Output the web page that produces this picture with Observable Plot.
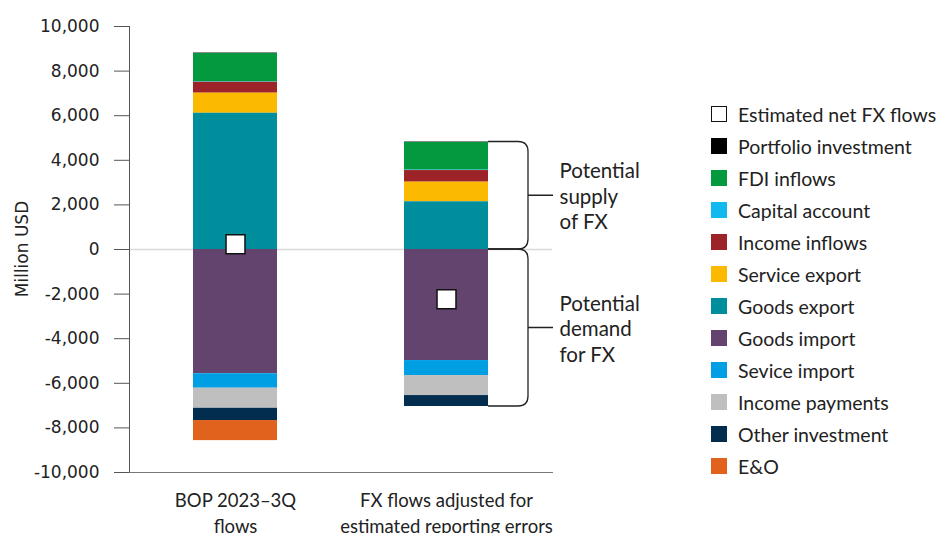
<!DOCTYPE html>
<html><head><meta charset="utf-8">
<script src="https://cdn.jsdelivr.net/npm/d3@7"></script>
<script src="https://cdn.jsdelivr.net/npm/@observablehq/plot@0.6"></script>
<style>
body{margin:0;background:#fff;}
#wrap{position:relative;width:936px;height:533px;overflow:hidden;background:#fff;}
#wrap svg{position:absolute;left:0;top:0;}
#legend{position:absolute;left:711px;top:98px;font-family:Lato,sans-serif;font-size:19.5px;color:#222;}
.row{display:flex;align-items:center;height:32px;white-space:nowrap;}
.sw{width:16px;height:16px;margin-right:11px;box-sizing:border-box;flex:none;}
</style></head><body><div id="wrap"><div id="legend"></div></div>
<script>
// ---- data ----
const groups = ["BOP 2023–3Q flows", "FX flows adjusted for estimated reporting errors"];
const groupLabels = ["BOP 2023–3Q\nflows", "FX flows adjusted for\nestimated reporting errors"];
const series = ["Portfolio investment","FDI inflows","Capital account","Income inflows","Service export","Goods export","Goods import","Sevice import","Income payments","Other investment","E&O"];
const seriesColors = ["#000000","#03993f","#12b9ee","#9c2327","#fbb900","#008e9c","#63446f","#009fe3","#bfbfbf","#022d4f","#e0621c"];
const bopValues = [20, 1270, 20, 490, 900, 6110, -5570, -650, -900, -550, -900];
const fxValues  = [20, 1240, 20, 520, 880, 2140, -4980, -670, -900, -490, 0];
const netFlows = [240, -2230];
const yTicks = [-10000,-8000,-6000,-4000,-2000,0,2000,4000,6000,8000,10000];
const legendItems = ["Estimated net FX flows", ...series];
const braceLabels = ["Potential\nsupply\nof FX", "Potential\ndemand\nfor FX"];
// stacking order outward from zero
const stackOrder = ["Goods export","Service export","Income inflows","Capital account","FDI inflows","Portfolio investment","Goods import","Sevice import","Income payments","Other investment","E&O"];

const valuesByGroup = [bopValues, fxValues];
const data = [];
groups.forEach((g, gi) => series.forEach((s, si) => data.push({group: g, series: s, value: valuesByGroup[gi][si]})));
const netData = groups.map((g, i) => ({group: g, value: netFlows[i]}));
const labelMap = new Map(groups.map((g, i) => [g, groupLabels[i]]));

// brace extents for the adjusted bar
const adj = fxValues;
const supTop = d3.sum(adj.filter(v => v > 0));
const demBot = d3.sum(adj.filter(v => v < 0));
const braceData = [
  {group: groups[1], mid: supTop / 2, label: braceLabels[0]},
  {group: groups[1], mid: demBot / 2, label: braceLabels[1]}
];

const plot = Plot.plot({
  width: 936, height: 533,
  marginLeft: 129, marginRight: 384, marginTop: 26, marginBottom: 61,
  style: {fontFamily: "DejaVu Sans", fontSize: "17px", color: "#222", background: "transparent"},
  x: {domain: groups, paddingInner: 0.602, paddingOuter: 0.303, label: null},
  y: {domain: [-10000, 10000], label: null},
  color: {domain: series, range: seriesColors},
  marks: [
    Plot.ruleY([0], {stroke: "#d9d9d9", strokeWidth: 1.5}),
    Plot.barY(data, {x: "group", y: "value", fill: "series", order: stackOrder}),
    Plot.dot(netData, {x: "group", y: "value", symbol: "square", r: 10.7, fill: "white", stroke: "#111", strokeWidth: 1.5}),
    Plot.axisY({ticks: yTicks, tickSize: 15, tickPadding: 15, stroke: "#555", fill: "#222", fontSize: 17, label: null,
      tickFormat: d => d.toLocaleString("en-US")}),
    Plot.frame({anchor: "left", stroke: "#555"}),
    Plot.frame({anchor: "bottom", stroke: "#777"}),
    Plot.axisX({tickSize: 0, tickPadding: 17, tickFormat: d => labelMap.get(d), fontFamily: "Lato", fontSize: 18.5, lineHeight: 1.36, fill: "#222", label: null}),
    Plot.text(braceData, {x: "group", y: "mid", text: "label", textAnchor: "start", dx: 113, fontFamily: "Lato", fontSize: 20.5, lineHeight: 1.24, fill: "#222"})
  ]
});

const wrap = document.getElementById("wrap");
wrap.insertBefore(plot, wrap.firstChild);

// braces drawn from the plot's own scales
const xs = plot.scale("x"), ys = plot.scale("y");
const x0 = xs.apply(groups[1]) + xs.bandwidth;
const x1 = x0 + 40, r = 10;
const yT = ys.apply(supTop), yZ = ys.apply(0), yB = ys.apply(demBot);
const svg = d3.select(plot);
const g = svg.append("g").attr("fill", "none").attr("stroke", "#222").attr("stroke-width", 1.3);
g.append("path").attr("d", `M${x0},${yT}H${x1-r}Q${x1},${yT} ${x1},${yT+r}V${yZ-r}Q${x1},${yZ} ${x1-r},${yZ}H${x0}`);
g.append("path").attr("d", `M${x0},${yZ}H${x1-r}Q${x1},${yZ} ${x1},${yZ+r}V${yB-r}Q${x1},${yB} ${x1-r},${yB}H${x0}`);
g.append("path").attr("d", `M${x1},${(yT+yZ)/2}H${x1+25}M${x1},${(yZ+yB)/2}H${x1+25}`);

// y-axis title
svg.append("text").attr("transform", `translate(22,${(ys.apply(10000)+ys.apply(-10000))/2}) rotate(-90)`)
  .attr("text-anchor", "middle").attr("dominant-baseline", "central")
  .attr("font-family", "DejaVu Sans").attr("font-size", 17).attr("fill", "#222").text("Million USD");

// legend
const legend = document.getElementById("legend");
const legendColors = ["#ffffff", ...seriesColors];
legendItems.forEach((name, i) => {
  const row = document.createElement("div"); row.className = "row";
  const sw = document.createElement("div"); sw.className = "sw";
  sw.style.background = legendColors[i];
  if (i === 0) sw.style.border = "1.5px solid #111";
  const t = document.createElement("span"); t.textContent = name;
  row.appendChild(sw); row.appendChild(t); legend.appendChild(row);
});
</script></body></html>
